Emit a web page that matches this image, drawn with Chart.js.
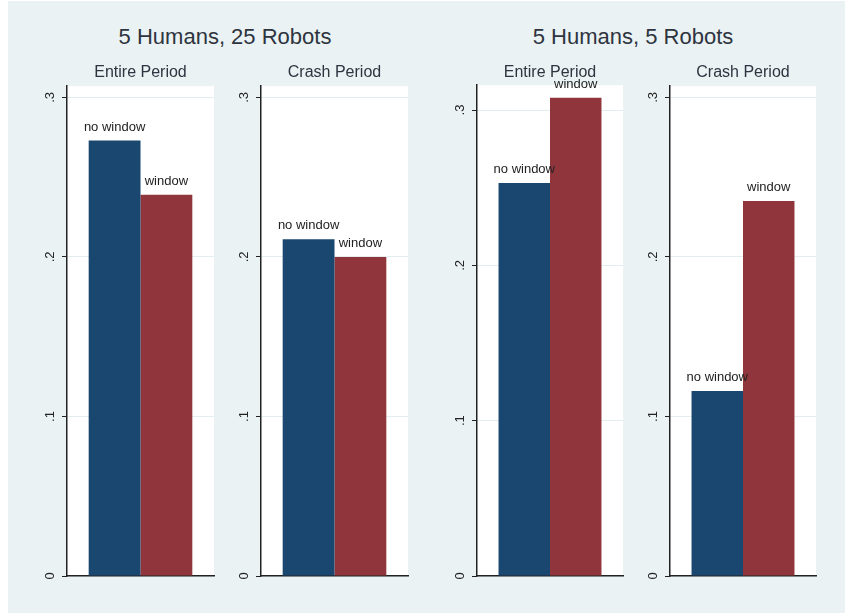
<!DOCTYPE html>
<html>
<head>
<meta charset="utf-8">
<script src="https://cdn.jsdelivr.net/npm/chart.js@4"></script>
<style>
  html, body { margin:0; padding:0; background:#ffffff; }
  #wrap { position:relative; width:846px; height:613px; overflow:hidden; background:#ffffff; }
  #bg { position:absolute; left:8px; top:1px; width:837px; height:612px; background:#eaf2f3; }
  .gtitle { position:absolute; top:24px; width:300px; text-align:center; font-family:"Liberation Sans", Arial, sans-serif; font-size:22px; line-height:26px; color:#2e3440; white-space:nowrap; }
  canvas { position:absolute; }
</style>
</head>
<body>
<div id="wrap">
  <div id="bg"></div>
  <div class="gtitle" id="g0" style="left:75px"></div>
  <div class="gtitle" id="g1" style="left:483px"></div>
  <canvas id="c0" style="left:17px; top:60px" width="217" height="530"></canvas>
  <canvas id="c1" style="left:211px; top:60px" width="217" height="530"></canvas>
  <canvas id="c2" style="left:427px; top:60px" width="216" height="530"></canvas>
  <canvas id="c3" style="left:620px; top:60px" width="216" height="530"></canvas>
</div>
<script>
// ---- data ----
const groupTitles = ['5 Humans, 25 Robots', '5 Humans, 5 Robots'];
const panelTitles = ['Entire Period', 'Crash Period', 'Entire Period', 'Crash Period'];
const seriesNames = ['no window', 'window'];
const noWindow = [0.273, 0.211, 0.253, 0.116];
const withWindow = [0.239, 0.200, 0.308, 0.235];
const tickValues = [0, 0.1, 0.2, 0.3];
const tickLabels = ['0', '.1', '.2', '.3'];
const yMax = [0.307, 0.307, 0.316, 0.307];

// ---- style ----
const FONT = '"Liberation Sans", Arial, sans-serif';
const NAVY = '#1a476f';
const MAROON = '#90353b';
const INK = '#222222';
const titleBottomPad = [4, 4, 3, 4];

document.getElementById('g0').textContent = groupTitles[0];
document.getElementById('g1').textContent = groupTitles[1];

const plotBg = {
  id: 'plotBg',
  beforeDraw(chart) {
    const a = chart.chartArea, ctx = chart.ctx;
    ctx.save();
    ctx.fillStyle = '#ffffff';
    ctx.fillRect(a.left, a.top, a.right - a.left, a.bottom - a.top);
    ctx.restore();
  }
};

const barLabels = {
  id: 'barLabels',
  afterDatasetsDraw(chart) {
    const ctx = chart.ctx;
    ctx.save();
    ctx.font = '13px ' + FONT;
    ctx.fillStyle = INK;
    ctx.textAlign = 'center';
    ctx.textBaseline = 'bottom';
    chart.data.datasets.forEach((ds, di) => {
      chart.getDatasetMeta(di).data.forEach(el => {
        ctx.fillText(ds.label, el.x, el.y - 7);
      });
    });
    ctx.restore();
  }
};

for (let i = 0; i < 4; i++) {
  new Chart(document.getElementById('c' + i), {
    type: 'bar',
    data: {
      labels: [panelTitles[i]],
      datasets: [
        { label: seriesNames[0], data: [noWindow[i]], backgroundColor: NAVY, borderWidth: 0 },
        { label: seriesNames[1], data: [withWindow[i]], backgroundColor: MAROON, borderWidth: 0 }
      ]
    },
    options: {
      responsive: false,
      animation: false,
      devicePixelRatio: 1,
      layout: { padding: { left: 0, right: 20, top: 0, bottom: 14 } },
      datasets: { bar: { categoryPercentage: 0.705, barPercentage: 1.0 } },
      plugins: {
        legend: { display: false },
        tooltip: { enabled: false },
        title: {
          display: true,
          text: panelTitles[i],
          fullSize: false,
          color: '#2e3440',
          font: { family: FONT, size: 16, weight: 'normal', lineHeight: 1.2 },
          padding: { top: 3, bottom: titleBottomPad[i] }
        }
      },
      scales: {
        x: {
          display: true,
          afterFit: s => { s.height = 0; },
          ticks: { display: false },
          grid: { display: false, drawTicks: false },
          border: { display: true, color: INK, width: 1.5 }
        },
        y: {
          min: 0,
          max: yMax[i],
          afterBuildTicks: s => { s.ticks = tickValues.map(v => ({ value: v })); },
          afterFit: s => { s.width = 50; },
          ticks: {
            minRotation: 90, maxRotation: 90,
            crossAlign: 'center',
            padding: 6,
            color: INK,
            font: { family: FONT, size: 13 },
            callback: (v, idx) => tickLabels[idx]
          },
          grid: { color: '#e3ecef', lineWidth: 1, tickColor: INK, tickLength: 5, drawTicks: true },
          border: { display: true, color: INK, width: 1.5 }
        }
      }
    },
    plugins: [plotBg, barLabels]
  });
}
</script>
</body>
</html>
